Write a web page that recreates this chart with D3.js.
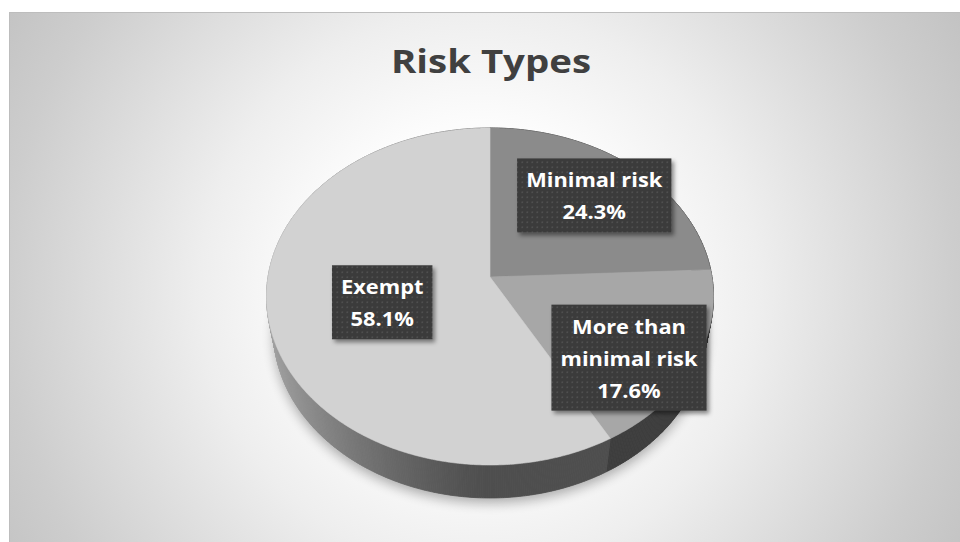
<!DOCTYPE html>
<html>
<head>
<meta charset="utf-8">
<script src="https://cdn.jsdelivr.net/npm/d3@7/dist/d3.min.js"></script>
<style>
  html, body { margin: 0; padding: 0; background: #ffffff; }
  svg { display: block; }
</style>
</head>
<body>
<div id="chart"></div>
<script>
"use strict";

// data
var categories = ["Minimal risk", "More than minimal risk", "Exempt"];
var values = [24.3, 17.6, 58.1];
var chartTitle = "Risk Types";

// look
var topColors = ["#8b8b8b", "#a7a7a7", "#d2d2d2"];
var labelRadius = [0.72, 0.75, 0.50];
var labelShift = [0, 8.6, -2.8];

var width = 960, height = 542;

// perspective camera for the 3d pie
var cam = {
    cx: 490, cy: 277,
    focal: 1272,
    dist: 5.73,
    tilt: Math.asin(0.749),
    depth: 0.2466
};

function project(theta, rho, h) {
    var x = rho * Math.sin(theta);
    var zd = -rho * Math.cos(theta);
    var yc = -zd * Math.sin(cam.tilt) + h * Math.cos(cam.tilt);
    var d = cam.dist - (zd * Math.cos(cam.tilt) + h * Math.sin(cam.tilt));
    return [cam.cx + cam.focal * x / d, cam.cy - cam.focal * yc / d, d];
}

// side shading, light coming from the left
function sideFactor(theta) {
    var s = Math.max(0, -Math.sin(theta));
    return 0.37 + 0.42 * Math.pow(s, 1.3);
}

function shade(color, k) {
    var c = d3.rgb(color);
    return d3.rgb(c.r * k, c.g * k, c.b * k).formatHex();
}

var svg = d3.select("#chart").append("svg")
    .attr("width", width)
    .attr("height", height);

var defs = svg.append("defs");

var bg = defs.append("radialGradient")
    .attr("id", "bgGrad")
    .attr("gradientUnits", "userSpaceOnUse")
    .attr("cx", 480).attr("cy", 290).attr("r", 560);
[[0, "#ffffff"], [0.3, "#fcfcfc"], [0.5, "#eeeeee"], [0.85, "#cdcdcd"], [1, "#c2c2c2"]]
    .forEach(function (s) {
        bg.append("stop").attr("offset", s[0]).attr("stop-color", s[1]);
    });

defs.append("filter")
    .attr("id", "pieShadow")
    .attr("x", "-20%").attr("y", "-20%").attr("width", "140%").attr("height", "140%")
    .append("feGaussianBlur").attr("stdDeviation", 6);

var boxShadow = defs.append("filter")
    .attr("id", "boxShadow")
    .attr("x", "-20%").attr("y", "-20%").attr("width", "140%").attr("height", "140%");
boxShadow.append("feDropShadow")
    .attr("dx", 2.5).attr("dy", 3).attr("stdDeviation", 2)
    .attr("flood-color", "#000").attr("flood-opacity", 0.45);

var dots = defs.append("pattern")
    .attr("id", "dots")
    .attr("patternUnits", "userSpaceOnUse")
    .attr("width", 5).attr("height", 5);
dots.append("rect").attr("width", 5).attr("height", 5).attr("fill", "#3b3b3b");
dots.append("rect").attr("x", 1.5).attr("y", 1.5).attr("width", 1.6).attr("height", 1.6)
    .attr("fill", "#505050");

// chart area
svg.append("rect")
    .attr("x", 9.5).attr("y", 12.5)
    .attr("width", width - 9).attr("height", height - 12)
    .attr("fill", "url(#bgGrad)")
    .attr("stroke", "#bdbdbd")
    .attr("stroke-width", 1);

svg.append("text")
    .attr("transform", "translate(491,73) scale(1.2,1)")
    .attr("text-anchor", "middle")
    .attr("font-family", "'Open Sans', sans-serif")
    .attr("font-weight", 700)
    .attr("font-size", 32)
    .attr("fill", "#404040")
    .text(chartTitle);

var pie = d3.pie().sort(null).startAngle(0).endAngle(2 * Math.PI);
var arcs = pie(values);

var line = d3.line();
var step = Math.PI / 360;

function arcPoints(a0, a1, h) {
    var pts = [];
    var n = Math.max(2, Math.ceil((a1 - a0) / step));
    for (var i = 0; i <= n; i++) {
        pts.push(project(a0 + (a1 - a0) * i / n, 1, h).slice(0, 2));
    }
    return pts;
}

var pieGroup = svg.append("g");

// soft shadow under the base
pieGroup.append("path")
    .attr("d", line(arcPoints(0, 2 * Math.PI, -cam.depth)) + "Z")
    .attr("transform", "translate(0,5)")
    .attr("fill", "#000")
    .attr("opacity", 0.3)
    .attr("filter", "url(#pieShadow)");

// outer wall, drawn back to front
var quads = [];
arcs.forEach(function (a, i) {
    var n = Math.max(2, Math.ceil((a.endAngle - a.startAngle) / step));
    for (var k = 0; k < n; k++) {
        var t0 = a.startAngle + (a.endAngle - a.startAngle) * k / n;
        var t1 = a.startAngle + (a.endAngle - a.startAngle) * (k + 1) / n;
        var tm = (t0 + t1) / 2;
        quads.push({
            pts: [project(t0, 1, 0), project(t1, 1, 0), project(t1, 1, -cam.depth), project(t0, 1, -cam.depth)],
            depth: project(tm, 1, -cam.depth / 2)[2],
            color: shade(topColors[i], sideFactor(tm))
        });
    }
});
quads.sort(function (p, q) { return q.depth - p.depth; });

pieGroup.selectAll("path.wall")
    .data(quads)
    .enter().append("path")
    .attr("class", "wall")
    .attr("d", function (q) { return line(q.pts.map(function (p) { return p.slice(0, 2); })) + "Z"; })
    .attr("fill", function (q) { return q.color; })
    .attr("stroke", function (q) { return q.color; })
    .attr("stroke-width", 0.8);

// top faces
pieGroup.selectAll("path.top")
    .data(arcs)
    .enter().append("path")
    .attr("class", "top")
    .attr("d", function (a) {
        var pts = [project(0, 0, 0).slice(0, 2)].concat(arcPoints(a.startAngle, a.endAngle, 0));
        return line(pts) + "Z";
    })
    .attr("fill", function (a, i) { return topColors[i]; })
    .attr("stroke", function (a, i) { return topColors[i]; })
    .attr("stroke-width", 0.6);

// data labels
var pct = d3.format(".1f");

function wrap(text, maxChars) {
    var words = text.split(" "), lines = [], cur = "";
    words.forEach(function (w) {
        var next = cur ? cur + " " + w : w;
        if (next.length > maxChars && cur) {
            lines.push(cur);
            cur = w;
        } else {
            cur = next;
        }
    });
    lines.push(cur);
    return lines;
}

var lineH = 32, padX = 9, padY = 5, stretch = 1.12;

arcs.forEach(function (a, i) {
    var mid = (a.startAngle + a.endAngle) / 2 + labelShift[i] * Math.PI / 180;
    var c = project(mid, labelRadius[i], 0);
    var lines = wrap(categories[i], 12).concat([pct(values[i]) + "%"]);

    var g = svg.append("g").attr("class", "label");
    var box = g.append("rect")
        .attr("fill", "url(#dots)")
        .attr("filter", "url(#boxShadow)");

    var txt = g.append("text")
        .attr("font-family", "'Open Sans', sans-serif")
        .attr("font-weight", 700)
        .attr("font-size", 19.5)
        .attr("fill", "#ffffff")
        .attr("text-anchor", "middle");

    var boxH = lines.length * lineH + padY * 2;
    var top = c[1] - boxH / 2;
    txt.attr("transform", "translate(" + c[0] + "," + top + ") scale(" + stretch + ",1)");
    lines.forEach(function (l, j) {
        txt.append("tspan")
            .attr("x", 0)
            .attr("y", padY + 24 + j * lineH)
            .text(l);
    });

    var w = txt.node().getBBox().width * stretch + padX * 2;
    box.attr("x", c[0] - w / 2)
        .attr("y", top)
        .attr("width", w)
        .attr("height", boxH);
});
</script>
</body>
</html>
